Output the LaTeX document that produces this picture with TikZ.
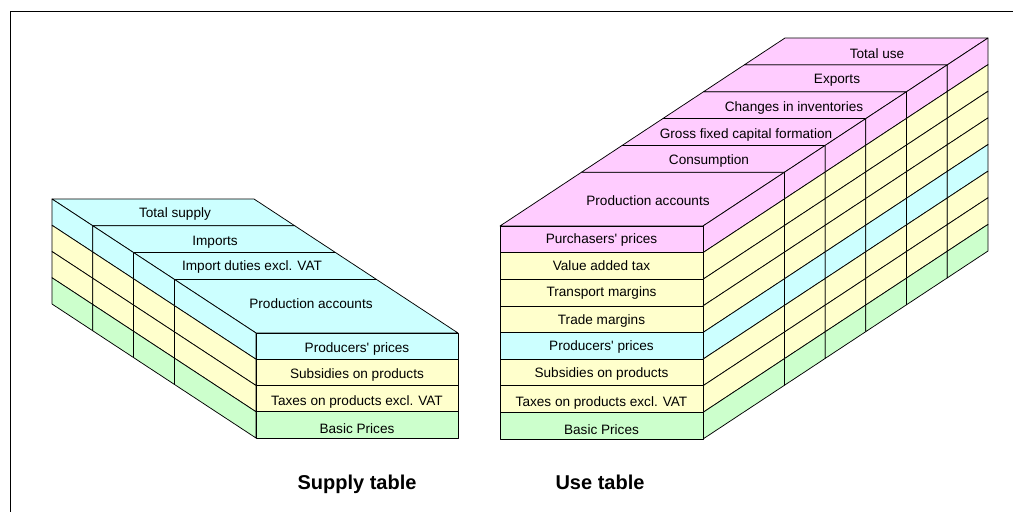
\documentclass[tikz,border=0pt]{standalone}
\usepackage{fontspec}
\setmainfont{Liberation Sans}
\usetikzlibrary{calc}
\definecolor{cy}{HTML}{CCFFFF}
\definecolor{ye}{HTML}{FFFFCC}
\definecolor{gr}{HTML}{CCFFCC}
\definecolor{pk}{HTML}{FFCCFF}
% point on the supply block: depth t (0 back, 1 front), offset u across, row level r
\newcommand\supPt[3]{({256+(#2)-204*(1-(#1))},{333+26.25*(#3)-134*(1-(#1))})}
% point on the use block: depth k (0 front, 7 back), offset u across, row level r
\newcommand\usePt[3]{({500+(#2)+285*(#1)/7},{226+26.625*(#3)-188*(#1)/7})}
\begin{document}
\begin{tikzpicture}[x=1pt,y=-1pt,
  cell/.style={draw=black,line width=0.75pt,line join=round},
  lbl/.style={font=\fontsize{13.6}{15}\selectfont,inner sep=0pt,anchor=base},
  captxt/.style={font=\fontsize{20}{22}\selectfont\bfseries,inner sep=0pt,anchor=base}]
\useasboundingbox (0,0) rectangle (1013,512);
\coordinate (frTR) at (1013,11.5);
\coordinate (frTL) at (10.3,11.5);
\coordinate (frBL) at (10.3,512);
\draw[line width=1.5pt] (frTR) -- (frTL) -- (frBL);

% ---------------- Supply table ----------------
\foreach \ta/\tb in {0/0.2,0.2/0.4,0.4/0.6,0.6/1}{
  \filldraw[cell,fill=cy] \supPt{\ta}{0}{0} -- \supPt{\ta}{202}{0} -- \supPt{\tb}{202}{0} -- \supPt{\tb}{0}{0} -- cycle;
}
\foreach \r/\c in {0/cy,1/ye,2/ye,3/gr}{
  \foreach \ta/\tb in {0/0.2,0.2/0.4,0.4/0.6,0.6/1}{
    \filldraw[cell,fill=\c] \supPt{\ta}{0}{\r} -- \supPt{\tb}{0}{\r} -- \supPt{\tb}{0}{\r+1} -- \supPt{\ta}{0}{\r+1} -- cycle;
  }
  \filldraw[cell,fill=\c] \supPt{1}{0}{\r} rectangle \supPt{1}{202}{\r+1};
}
\node[lbl] (s1) at (175,217) {Total supply};
\node[lbl] (s2) at (215,245) {Imports};
\node[lbl] (s3) at (252,270) {Import duties excl. VAT};
\node[lbl] (s4) at (311,308) {Production accounts};
\node[lbl] (s5) at (357,352) {Producers\textquotesingle\ prices};
\node[lbl] (s6) at (357,378.5) {Subsidies on products};
\node[lbl] (s7) at (357,405) {Taxes on products excl. VAT};
\node[lbl] (s8) at (357,433) {Basic Prices};

% ---------------- Use table ----------------
\foreach \ka/\kb in {0/2,2/3,3/4,4/5,5/6,6/7}{
  \filldraw[cell,fill=pk] \usePt{\ka}{0}{0} -- \usePt{\ka}{203}{0} -- \usePt{\kb}{203}{0} -- \usePt{\kb}{0}{0} -- cycle;
}
\foreach \r/\c in {0/pk,1/ye,2/ye,3/ye,4/cy,5/ye,6/ye,7/gr}{
  \foreach \ka/\kb in {0/2,2/3,3/4,4/5,5/6,6/7}{
    \filldraw[cell,fill=\c] \usePt{\ka}{203}{\r} -- \usePt{\kb}{203}{\r} -- \usePt{\kb}{203}{\r+1} -- \usePt{\ka}{203}{\r+1} -- cycle;
  }
  \filldraw[cell,fill=\c] \usePt{0}{0}{\r} rectangle \usePt{0}{203}{\r+1};
}
\node[lbl] (u1) at (877,58) {Total use};
\node[lbl] (u2) at (837,83) {Exports};
\node[lbl] (u3) at (794,111) {Changes in inventories};
\node[lbl] (u4) at (746,138) {Gross fixed capital formation};
\node[lbl] (u5) at (709,164) {Consumption};
\node[lbl] (u6) at (648,205) {Production accounts};
\node[lbl] (u7) at (601.5,243.5) {Purchasers\textquotesingle\ prices};
\node[lbl] (u8) at (601.5,270) {Value added tax};
\node[lbl] (u9) at (601.5,296) {Transport margins};
\node[lbl] (u10) at (601.5,324) {Trade margins};
\node[lbl] (u11) at (601.5,350) {Producers\textquotesingle\ prices};
\node[lbl] (u12) at (601.5,377.5) {Subsidies on products};
\node[lbl] (u13) at (601.5,406) {Taxes on products excl. VAT};
\node[lbl] (u14) at (601.5,434) {Basic Prices};

% ---------------- Captions ----------------
\node[captxt] (capS) at (357,489) {Supply table};
\node[captxt] (capU) at (600,489) {Use table};
\end{tikzpicture}
\end{document}
